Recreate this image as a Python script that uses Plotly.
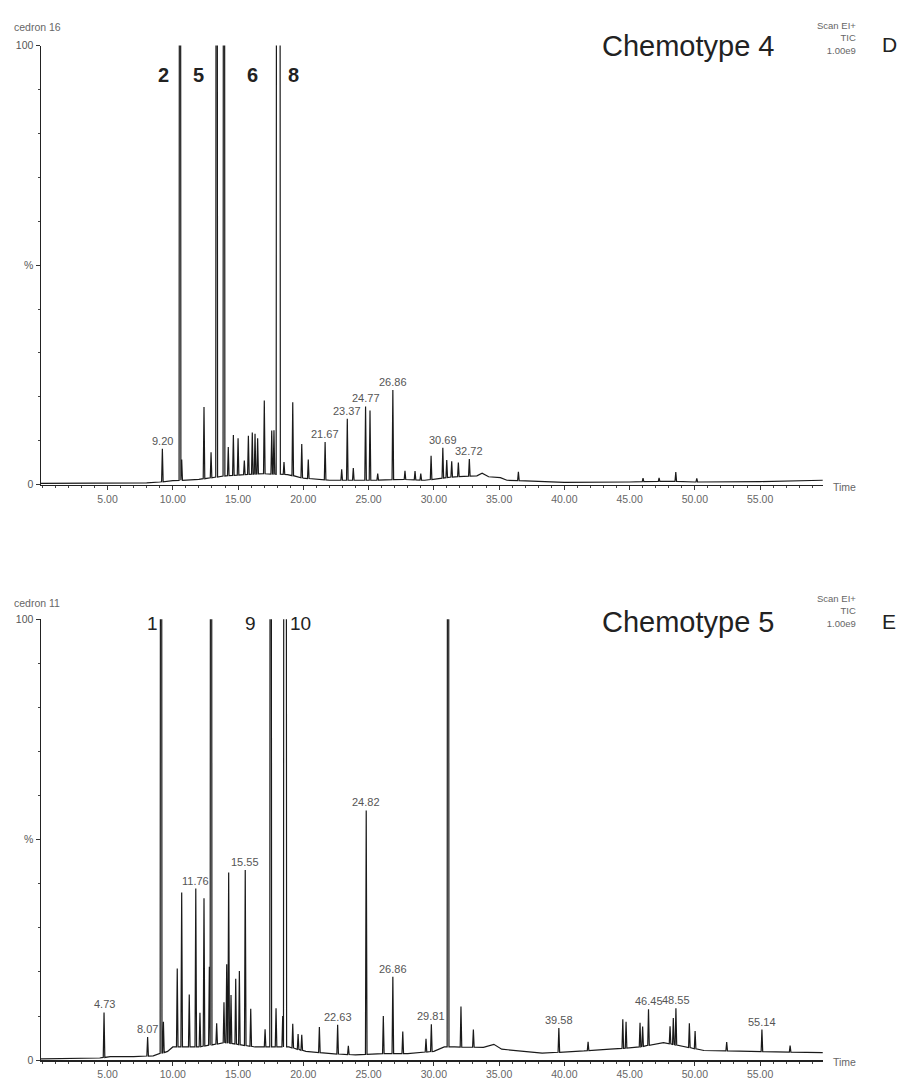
import plotly.graph_objects as go

# ---------------- Chemotype 4 (panel D, "cedron 16") ----------------
peak_rt_d = [9.20, 10.68, 12.39, 12.93, 14.25, 14.64, 15.00, 15.48, 15.79, 16.09,
             16.30, 16.50, 17.01, 17.58, 17.75, 18.52, 19.19, 19.88, 20.38, 21.67,
             22.94, 23.37, 23.83, 24.77, 25.11, 25.70, 26.86, 27.79, 28.56, 29.00,
             29.79, 30.69, 30.99, 31.37, 31.88, 32.72, 36.48, 46.03, 47.26, 48.54,
             50.15]
peak_h_d = [7.5, 4.7, 16.3, 5.8, 6.5, 9.2, 8.4, 3.2, 8.8, 9.5,
            9.2, 8.1, 16.7, 9.9, 10.0, 2.8, 16.7, 7.7, 4.3, 8.6,
            2.5, 14.0, 2.8, 16.8, 15.9, 1.5, 20.4, 2.0, 2.0, 1.5,
            5.4, 6.9, 4.0, 3.6, 3.2, 3.9, 2.0, 0.8, 0.8, 2.1,
            0.8]
sat_rt_d = [10.55, 13.36, 13.92, 18.08]      # off-scale peaks (>100 %)
sat_top_d = [0.0, 0.0, 0.0, 0.09]            # half-width of flat top (min)
base_t_d = [-0.1, 3.0, 6.0, 8.0, 9.0, 10.0, 12.0, 14.0, 16.8, 18.8, 20.0, 22.0,
            25.5, 27.5, 29.3, 31.6, 33.3, 33.7, 34.2, 35.1, 35.6, 37.5, 40.0,
            45.0, 48.0, 50.0, 55.0, 59.8]
base_v_d = [0.3, 0.3, 0.3, 0.4, 0.6, 0.9, 1.2, 2.0, 2.5, 2.3, 1.5, 1.0,
            1.0, 1.2, 1.0, 1.8, 2.0, 2.6, 1.8, 1.6, 1.0, 0.8, 0.5,
            0.6, 0.8, 0.6, 0.7, 1.0]
labels_d = [9.20, 21.67, 23.37, 24.77, 26.86, 30.69, 32.72]
labels_h_d = [7.5, 8.6, 14.0, 16.8, 20.4, 6.9, 3.9]
compound_d = ["2", "5", "6", "8"]
compound_t_d = [9.25, 11.93, 16.07, 19.21]

# ---------------- Chemotype 5 (panel E, "cedron 11") ----------------
peak_rt_e = [4.73, 8.07, 9.28, 10.34, 10.68, 11.26, 11.76, 12.08, 12.39, 12.80,
             13.36, 13.92, 14.13, 14.28, 14.46, 14.82, 15.10, 15.55, 15.97, 17.07,
             17.91, 18.42, 19.19, 19.60, 19.88, 21.23, 22.63, 23.45, 24.82, 26.13,
             26.86, 27.62, 29.40, 29.81, 32.08, 33.03, 39.58, 41.82, 44.48, 44.73,
             45.80, 46.00, 46.45, 48.10, 48.35, 48.55, 49.58, 50.02, 52.44, 55.14,
             57.30]
peak_h_e = [10.2, 4.3, 7.0, 17.8, 35.0, 11.9, 35.9, 7.7, 33.5, 17.8,
            4.7, 9.2, 17.8, 38.7, 11.0, 14.8, 16.7, 39.8, 8.5, 4.0,
            8.8, 7.0, 5.5, 3.5, 3.5, 5.8, 6.6, 2.0, 55.3, 8.5,
            17.4, 5.0, 3.0, 6.2, 9.2, 4.0, 5.5, 2.0, 6.6, 6.0,
            5.5, 4.5, 8.2, 4.0, 6.0, 8.3, 5.5, 4.0, 2.0, 5.0,
            1.5]
sat_rt_e = [9.10, 12.93, 17.50, 18.60, 31.09]
sat_top_e = [0.0, 0.0, 0.0, 0.05, 0.0]
base_t_e = [-0.1, 3.0, 4.4, 5.2, 7.0, 8.5, 9.6, 10.0, 12.0, 14.0, 16.3, 18.9,
            20.2, 22.0, 24.0, 26.0, 28.0, 30.0, 30.8, 31.6, 33.8, 34.6, 35.2,
            38.3, 41.5, 43.5, 45.6, 47.6, 50.7, 54.3, 59.4, 59.8]
base_v_e = [0.3, 0.4, 0.5, 0.8, 0.8, 1.0, 2.0, 3.0, 3.0, 4.0, 3.0, 3.0,
            2.0, 1.5, 1.2, 1.5, 1.5, 2.0, 3.0, 3.0, 2.9, 3.6, 2.5,
            1.6, 2.1, 2.5, 2.9, 4.0, 2.2, 2.0, 1.7, 1.7]
labels_e = [4.73, 8.07, 11.76, 15.55, 22.63, 24.82, 26.86, 29.81, 39.58, 46.45, 48.55, 55.14]
labels_h_e = [10.2, 4.3, 35.9, 39.8, 6.6, 55.3, 17.4, 6.2, 5.5, 8.2, 8.3, 5.0]
compound_e = ["1", "9", "10"]
compound_t_e = [8.42, 15.92, 19.75]

TICKS = [5, 10, 15, 20, 25, 30, 35, 40, 45, 50, 55]
HW = 0.06      # half-width of a peak at its base (min)
FONT = "Liberation Sans, Arial"


def base_at(t, bt, bv):
    for i in range(len(bt) - 1):
        if bt[i] <= t <= bt[i + 1]:
            f = (t - bt[i]) / (bt[i + 1] - bt[i])
            return bv[i] + f * (bv[i + 1] - bv[i])
    return bv[-1]


def build_trace(prt, ph, srt, stop, bt, bv):
    pts = []
    windows = []
    for t, h in zip(prt, ph):
        b = base_at(t, bt, bv)
        pts += [(t - HW, b), (t, b + h), (t + HW, b)]
        windows.append((t - HW, t + HW))
    for t, w in zip(srt, stop):
        b = base_at(t, bt, bv)
        pts += [(t - w - 0.07, b), (t - w, 400.0), (t + w, 400.0), (t + w + 0.07, b)]
        windows.append((t - w - 0.07, t + w + 0.07))
    for t, v in zip(bt, bv):
        if not any(a - 0.01 <= t <= c + 0.01 for a, c in windows):
            pts.append((t, v))
    pts.sort(key=lambda p: p[0])
    return [p[0] for p in pts], [p[1] for p in pts]


xd, yd = build_trace(peak_rt_d, peak_h_d, sat_rt_d, sat_top_d, base_t_d, base_v_d)
xe, ye = build_trace(peak_rt_e, peak_h_e, sat_rt_e, sat_top_e, base_t_e, base_v_e)

fig = go.Figure()
fig.add_trace(go.Scatter(x=xd, y=yd, mode="lines", line=dict(color="#1a1a1a", width=1.2),
                         xaxis="x", yaxis="y", showlegend=False, hoverinfo="skip"))
fig.add_trace(go.Scatter(x=xe, y=ye, mode="lines", line=dict(color="#1a1a1a", width=1.2),
                         xaxis="x2", yaxis="y2", showlegend=False, hoverinfo="skip"))

W, H = 899, 1084
xdom = [41 / W, 823 / W]
ydom_top = [1 - 484 / H, 1 - 40 / H]
ydom_bot = [1 - 1066 / H, 1 - 620 / H]

xaxis_common = dict(
    range=[-0.1, 59.82], showline=True, linecolor="#222", linewidth=1.5,
    ticks="outside", ticklen=4, tickcolor="#333", tickwidth=1,
    tickvals=TICKS, ticktext=["%.2f" % v for v in TICKS],
    tickfont=dict(family=FONT, size=10.5, color="#666"),
    minor=dict(dtick=1, ticks="outside", ticklen=2, tickcolor="#444"),
    showgrid=False, zeroline=False, domain=xdom, fixedrange=True,
)
yaxis_common = dict(
    range=[0, 100], showline=True, linecolor="#222", linewidth=1.5,
    ticks="outside", ticklen=4, tickcolor="#333",
    tickvals=[0, 50, 100], ticktext=["0", "%", "100"],
    tickfont=dict(family=FONT, size=10.5, color="#555"),
    minor=dict(dtick=10, ticks="outside", ticklen=2, tickcolor="#444"),
    showgrid=False, zeroline=False, fixedrange=True,
)

fig.update_layout(
    width=W, height=H, margin=dict(l=0, r=0, t=0, b=0),
    paper_bgcolor="white", plot_bgcolor="white",
    xaxis=dict(**xaxis_common, anchor="y"),
    yaxis=dict(**yaxis_common, domain=ydom_top, anchor="x"),
    xaxis2=dict(**xaxis_common, anchor="y2"),
    yaxis2=dict(**yaxis_common, domain=ydom_bot, anchor="x2"),
)

small = dict(family=FONT, size=11, color="#555")
ann = []
for t, h in zip(labels_d, labels_h_d):
    ann.append(dict(x=t, y=h + base_at(t, base_t_d, base_v_d), xref="x", yref="y", text="%.2f" % t,
                    showarrow=False, xanchor="center", yanchor="bottom", yshift=0, font=small))
for t, h in zip(labels_e, labels_h_e):
    ann.append(dict(x=t, y=h + base_at(t, base_t_e, base_v_e), xref="x2", yref="y2", text="%.2f" % t,
                    showarrow=False, xanchor="center", yanchor="bottom", yshift=0, font=small))
for s, t in zip(compound_d, compound_t_d):
    ann.append(dict(x=t, y=93.2, xref="x", yref="y", text="<b>%s</b>" % s, showarrow=False,
                    xanchor="center", yanchor="middle",
                    font=dict(family=FONT, size=20, color="#222")))
for s, t in zip(compound_e, compound_t_e):
    ann.append(dict(x=t, y=98.9, xref="x2", yref="y2", text=s, showarrow=False,
                    xanchor="center", yanchor="middle",
                    font=dict(family=FONT, size=19, color="#222")))

big = dict(family=FONT, size=29, color="#222")
for txt, yc, letter, nm, ycorner, yscan in [("Chemotype 4", 40, "D", "cedron 16", 21, 32),
                                            ("Chemotype 5", 623, "E", "cedron 11", 604, 612)]:
    ann.append(dict(x=688 / W, y=1 - yc / H, xref="paper", yref="paper", text=txt,
                    showarrow=False, xanchor="center", yanchor="middle", font=big))
    ann.append(dict(x=880 / W, y=1 - (yc - 1) / H, xref="paper", yref="paper", text=letter,
                    showarrow=False, xanchor="left", yanchor="middle",
                    font=dict(family=FONT, size=21, color="#222")))
    ann.append(dict(x=858 / W, y=1 - yscan / H, xref="paper", yref="paper",
                    text="Scan EI+<br>TIC<br>1.00e9", align="right", showarrow=False,
                    xanchor="right", yanchor="middle",
                    font=dict(family=FONT, size=9.5, color="#666")))
    ann.append(dict(x=12 / W, y=1 - ycorner / H, xref="paper", yref="paper", text=nm,
                    showarrow=False, xanchor="left", yanchor="middle",
                    font=dict(family=FONT, size=10.5, color="#666")))

for ypix in [486, 1068]:
    ann.append(dict(x=831 / W, y=1 - ypix / H, xref="paper", yref="paper", text="Time",
                    showarrow=False, xanchor="left", yanchor="middle",
                    font=dict(family=FONT, size=10.5, color="#666")))

fig.update_layout(annotations=ann)
fig.write_html("out.html", config={"displayModeBar": False, "staticPlot": True},
               post_script="document.body.style.margin='0';document.body.style.overflow='hidden';")
